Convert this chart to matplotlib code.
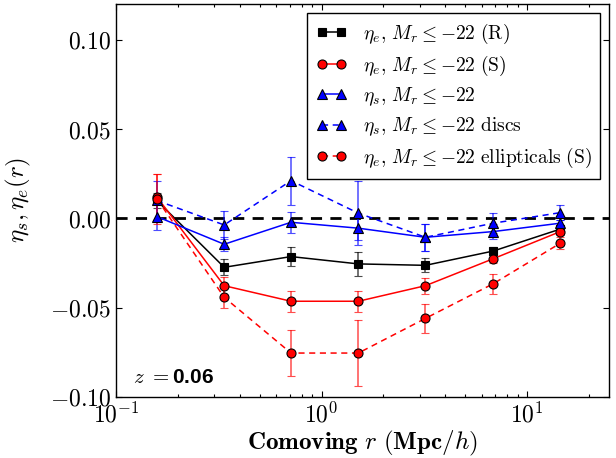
import numpy as np
import matplotlib
matplotlib.use('Agg')
import matplotlib.pyplot as plt
from matplotlib.lines import Line2D

plt.rcParams['mathtext.fontset'] = 'cm'
plt.rcParams['font.family'] = 'DejaVu Serif'
plt.rcParams['xtick.direction'] = 'in'
plt.rcParams['ytick.direction'] = 'in'
plt.rcParams['xtick.top'] = True
plt.rcParams['ytick.right'] = True

# comoving separation bins (Mpc/h)
r = [0.158, 0.336, 0.71, 1.51, 3.2, 6.84, 14.5]

eta_e_R = [0.010, -0.0274, -0.0214, -0.0255, -0.0263, -0.0183, -0.0060]
err_e_R = [0.004, 0.0045, 0.0055, 0.0068, 0.0040, 0.0020, 0.0020]

eta_e_S = [0.012, -0.0377, -0.0464, -0.0464, -0.0377, -0.0226, -0.0074]
err_e_S = [0.013, 0.0050, 0.0058, 0.0058, 0.0045, 0.0025, 0.0020]

eta_s = [0.001, -0.0145, -0.0022, -0.0055, -0.0106, -0.0074, -0.0027]
err_s = [0.0075, 0.0040, 0.0058, 0.0065, 0.0075, 0.0040, 0.0020]

eta_s_disc = [0.010, -0.0037, 0.0211, 0.0029, -0.0106, -0.0027, 0.0032]
err_s_disc = [0.011, 0.0080, 0.0135, 0.0180, 0.0075, 0.0057, 0.0043]

eta_e_ell = [0.011, -0.0442, -0.0754, -0.0754, -0.0560, -0.0366, -0.0139]
err_e_ell = [0.014, 0.0062, 0.0128, 0.0185, 0.0080, 0.0055, 0.0035]

yticks = [-0.10, -0.05, 0.00, 0.05, 0.10]

fig = plt.figure(figsize=(6.16, 4.58), dpi=100)
ax = fig.add_axes([0.1883, 0.1332, 0.8003, 0.8581])

ax.axhline(0, color='k', ls='--', lw=2, dashes=(4, 3), zorder=1)

handles = []
def series(y, e, color, ls, marker, label, ms):
    eb = ax.errorbar(r, y, yerr=e, color=color, ls=ls, marker=marker, ms=ms,
                     mec='k', mew=0.8, lw=1.1, capsize=3, elinewidth=1.1,
                     zorder=3)
    for c in eb[1]:
        c.set_alpha(0.7)
    for c in eb[2]:
        c.set_alpha(0.7)
    h = Line2D([], [], color=color, ls=ls, marker=marker, ms=ms, mec='k',
               mew=0.8, lw=1.1, label=label)
    if ls == '--':
        eb[0].set_dashes((4, 3))
        h.set_dashes((4, 3))
    handles.append(h)

series(eta_e_R, err_e_R, 'k', '-', 's', r'$\eta_e,\, M_r \leq {-22}\ \mathrm{(R)}$', 6)
series(eta_e_S, err_e_S, 'r', '-', 'o', r'$\eta_e,\, M_r \leq {-22}\ \mathrm{(S)}$', 6.5)
series(eta_s, err_s, 'b', '-', '^', r'$\eta_s,\, M_r \leq {-22}$', 6.5)
series(eta_s_disc, err_s_disc, 'b', '--', '^', r'$\eta_s,\, M_r \leq {-22}\ \mathrm{discs}$', 6.5)
series(eta_e_ell, err_e_ell, 'r', '--', 'o', r'$\eta_e,\, M_r \leq {-22}\ \mathrm{ellipticals\ (S)}$', 6.5)

ax.set_xscale('log')
ax.set_xlim(0.1, 25)
ax.set_ylim(-0.10, 0.12)
ax.set_yticks(yticks)
ax.set_yticklabels([r'$%.2f$' % v for v in yticks], fontsize=17)
ax.set_xticks([0.1, 1, 10])
ax.set_xticklabels([r'$10^{-1}$', r'$10^{0}$', r'$10^{1}$'], fontsize=17)
ax.tick_params(which='major', length=4, width=0.8)
ax.tick_params(which='minor', length=2, width=0.8)
ax.tick_params(axis='x', pad=4)
for s in ax.spines.values():
    s.set_linewidth(1.0)

ax.set_xlabel(r'$\mathbf{Comoving}\ r\ (\mathbf{Mpc}/h)$', fontsize=18, labelpad=1)
ax.set_ylabel(r'$\eta_s, \eta_e(r)$', fontsize=18, labelpad=12)

ax.text(0.035, 0.035, r'$z\ =$0.06', transform=ax.transAxes, fontsize=15,
        fontweight='bold', family='Liberation Sans')

leg = ax.legend(handles=handles, loc='upper right', numpoints=2, fontsize=14,
                fancybox=False, framealpha=1, edgecolor='k', borderaxespad=0.45,
                handlelength=1.6, handletextpad=0.8, labelspacing=0.4,
                borderpad=0.45)
leg.get_frame().set_linewidth(1.0)

fig.savefig('out.png', dpi=100, facecolor='white')
